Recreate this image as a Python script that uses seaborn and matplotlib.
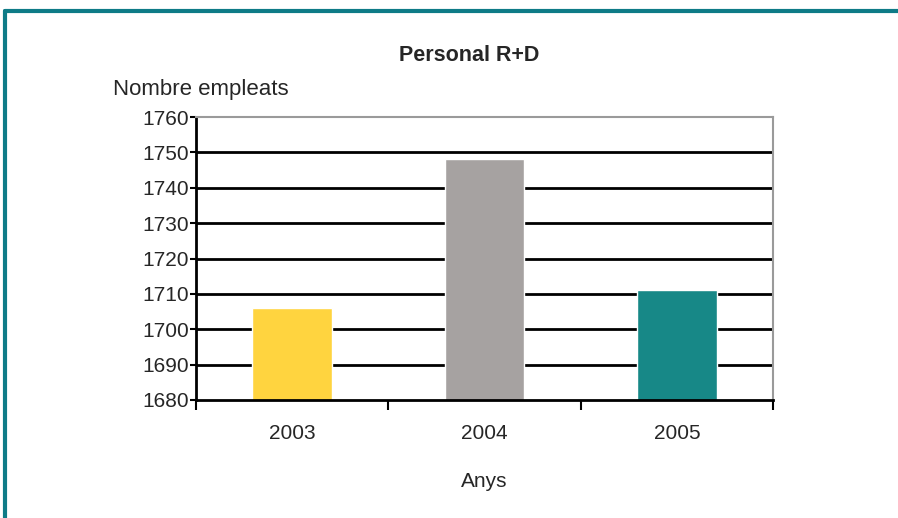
import numpy as np
import pandas as pd
import matplotlib
matplotlib.use("Agg")
import matplotlib.pyplot as plt
from matplotlib.lines import Line2D
import seaborn as sns

# Data
years = ["2003", "2004", "2005"]
employees = [1706, 1748, 1711]
bar_colors = ["#FFD43F", "#A6A2A1", "#178887"]
y_ticks = [1680, 1690, 1700, 1710, 1720, 1730, 1740, 1750, 1760]

df = pd.DataFrame({"year": years, "employees": employees})

sns.set_style("white")
plt.rcParams["font.family"] = ["Liberation Sans", "DejaVu Sans"]

fig = plt.figure(figsize=(8.98, 5.18), dpi=100)
ax = fig.add_axes([0.2183, 0.2278, 0.6425, 0.5463])

# horizontal grid lines drawn behind the bars
for v in y_ticks[1:-1]:
    ax.axhline(v, color="black", lw=2, zorder=0)

sns.barplot(data=df, x="year", y="employees", hue="year", palette=bar_colors,
            width=0.415, legend=False, ax=ax, zorder=2, saturation=1)

ax.set_ylim(1680, 1760)
ax.set_xlim(-0.5, 2.5)
ax.set_yticks(y_ticks)
ax.set_yticklabels([str(v) for v in y_ticks], fontsize=15)
ax.tick_params(axis="y", direction="out", length=4, width=1.5, color="black",
               left=True, pad=1)

# category labels centred, tick marks between categories
ax.set_xticks(range(len(years)))
ax.set_xticklabels(years, fontsize=15)
ax.tick_params(axis="x", which="major", length=0, pad=17)
ax.set_xticks([-0.5, 0.5, 1.5, 2.5], minor=True)
ax.tick_params(axis="x", which="minor", direction="out", length=7, width=1.5,
               color="black", bottom=True)

ax.set_xlabel("Anys", fontsize=15, labelpad=21)
ax.set_ylabel("")

for side in ["left", "bottom"]:
    ax.spines[side].set_color("black")
    ax.spines[side].set_linewidth(2)
for side in ["top", "right"]:
    ax.spines[side].set_color("#9a9a9a")
    ax.spines[side].set_linewidth(1.5)

fig.text(0.523, 0.893, "Personal R+D", ha="center", va="center",
         fontsize=15.5, fontweight="bold")
fig.text(0.126, 0.828, "Nombre empleats", ha="left", va="center", fontsize=16)

# teal frame line on top and left
fig.add_artist(Line2D([0.0056, 1.0], [0.978, 0.978], color="#0E7B87", lw=3,
                      transform=fig.transFigure))
fig.add_artist(Line2D([0.0056, 0.0056], [0.0, 0.978], color="#0E7B87", lw=3,
                      transform=fig.transFigure))

fig.savefig("out.png", dpi=100)
